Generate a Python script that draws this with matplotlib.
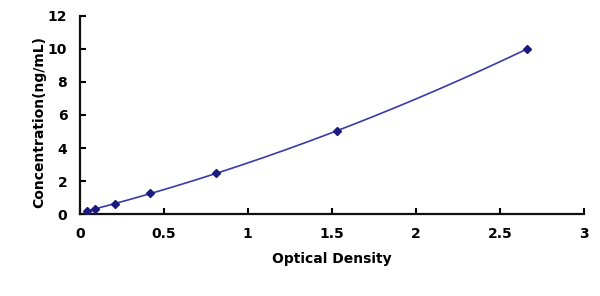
"""Standard curve: concentration vs optical density."""

import numpy as np
import matplotlib.pyplot as plt

plt.rcParams['font.family'] = ['DejaVu Sans']

optical_density = [0.04, 0.09, 0.21, 0.42, 0.81, 1.53, 2.66]
concentration = [0.156, 0.312, 0.625, 1.25, 2.5, 5.0, 10.0]
x_ticks = [0, 0.5, 1, 1.5, 2, 2.5, 3]
x_tick_labels = ['0', '0.5', '1', '1.5', '2', '2.5', '3']
y_ticks = [0, 2, 4, 6, 8, 10, 12]


def main():
    fig = plt.figure(figsize=(6.0, 2.96), dpi=100)
    ax = fig.add_axes([0.133, 0.277, 0.84, 0.669])

    # smooth fitted curve through the standards
    coef = np.polyfit(optical_density, concentration, 2)
    xs = np.linspace(min(optical_density), max(optical_density), 200)
    ax.plot(xs, np.polyval(coef, xs), color='#3a3aa8', linewidth=1.2, zorder=2)
    ax.plot(optical_density, concentration, linestyle='none', marker='D',
            markersize=4, color='#1a1a80', zorder=3)

    ax.set_xlim(0, 3)
    ax.set_ylim(0, 12)
    ax.set_xticks(x_ticks)
    ax.set_xticklabels(x_tick_labels)
    ax.set_yticks(y_ticks)
    for spine in ['top', 'right']:
        ax.spines[spine].set_visible(False)
    for spine in ['left', 'bottom']:
        ax.spines[spine].set_linewidth(1.6)
        ax.spines[spine].set_color('#111111')
    ax.tick_params(direction='in', length=4, width=1.5, labelsize=10, pad=9)
    for lbl in ax.get_xticklabels() + ax.get_yticklabels():
        lbl.set_fontweight('bold')

    ax.set_xlabel("Optical Density", fontsize=10, fontweight='bold', labelpad=8)
    ax.set_ylabel("Concentration(ng/mL)", fontsize=10, fontweight='bold')
    ax.yaxis.set_label_coords(-0.066, 0.465)

    fig.savefig("out.png", dpi=100)


if __name__ == "__main__":
    main()
